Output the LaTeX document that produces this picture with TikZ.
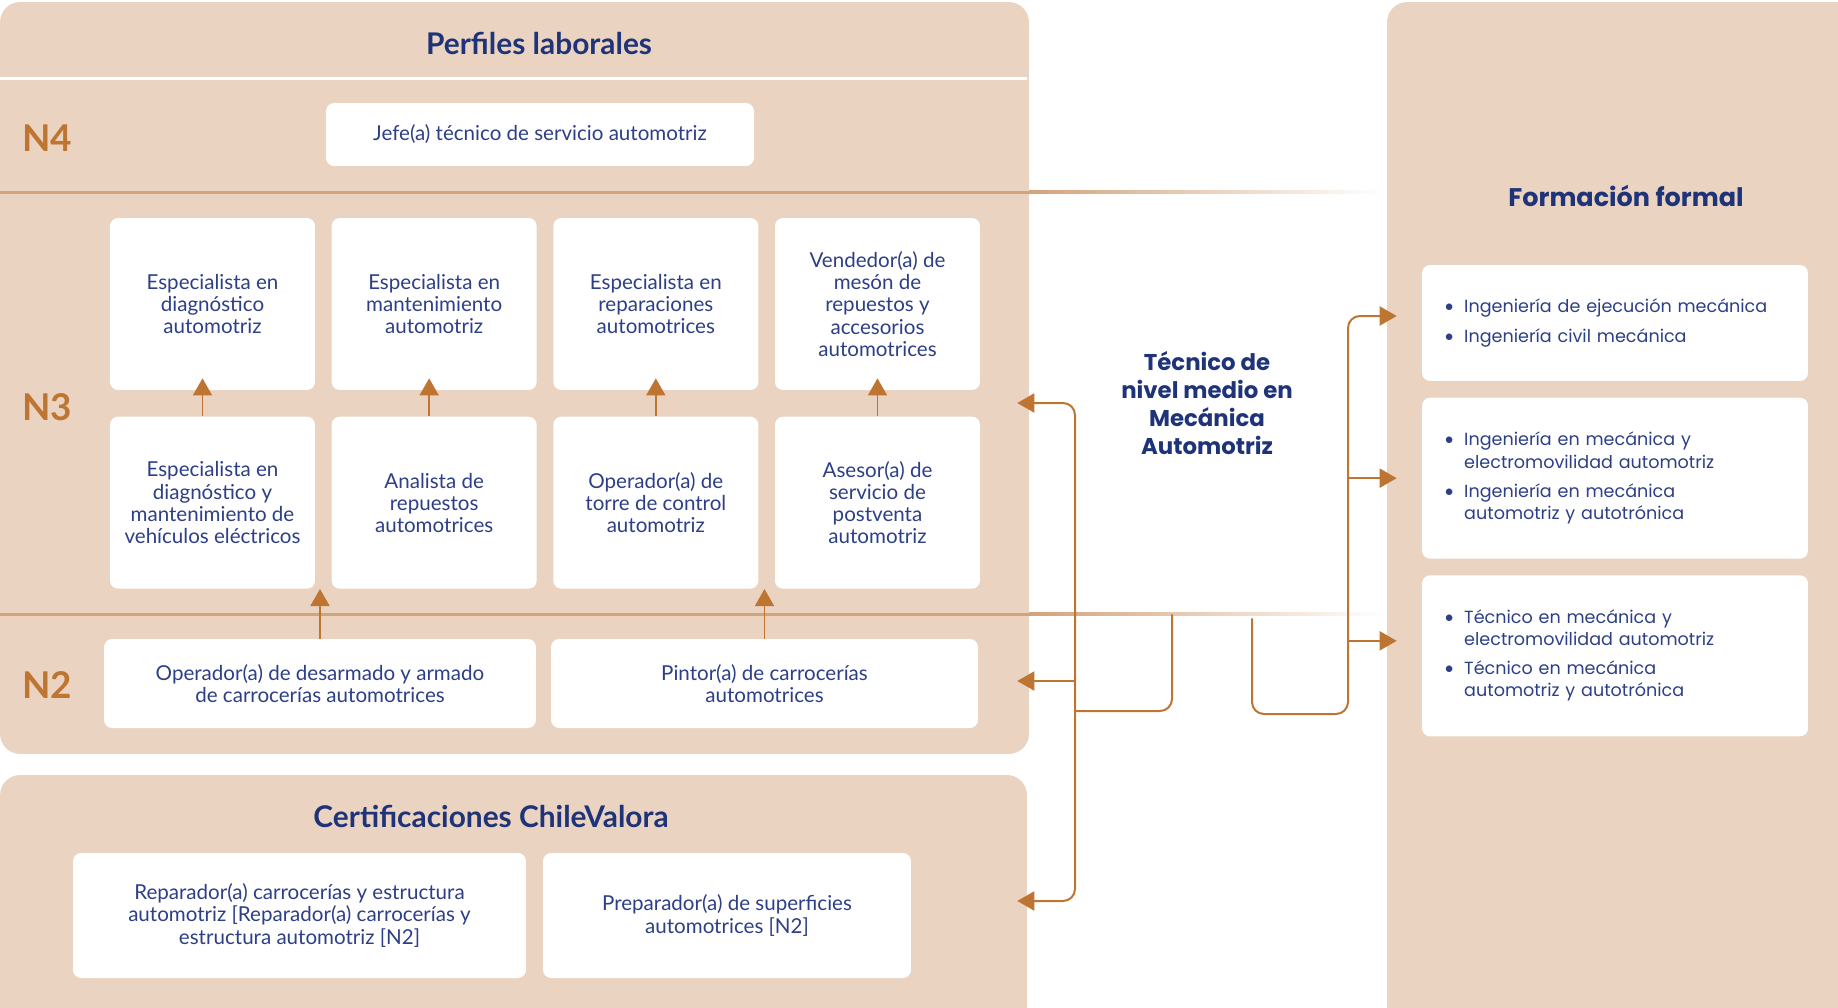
\documentclass[tikz,border=0pt]{standalone}
\usepackage{fontspec}
\setmainfont{Lato}
\newfontfamily\geofont{Poppins}
\usetikzlibrary{arrows.meta,calc,positioning}

\definecolor{panelbg}{HTML}{EAD3C1}
\definecolor{lvlline}{HTML}{D3A37A}
\definecolor{arrowcol}{HTML}{BF7532}
\definecolor{titlecol}{HTML}{1E3378}
\definecolor{boxtext}{HTML}{2D3F87}

\newcommand\fbul{{\rmfamily\textbullet}}

\tikzset{
  panel/.style={fill=panelbg, rounded corners=0.4cm, inner sep=0},
  card/.style={fill=white, rounded corners=0.16cm, text=boxtext, align=center, inner sep=0,
    font=\fontsize{11.7}{12.6}\selectfont},
  rolebox/.style={card, minimum width=4.1cm, minimum height=3.44cm},
  fcard/.style={card, align=left, inner xsep=0.44cm, text width=6.84cm,
    font=\geofont\fontsize{10}{12.6}\selectfont},
  ptitle/.style={text=titlecol, font=\bfseries\fontsize{17}{20}\selectfont},
  gtitle/.style={text=titlecol, align=center, font=\geofont\bfseries\fontsize{14.5}{17}\selectfont},
  lvl/.style={text=arrowcol, font=\bfseries\fontsize{21}{24}\selectfont},
  conn/.style={draw=arrowcol, line width=0.04cm, rounded corners=0.24cm},
  flow/.style={conn, -{Triangle[width=0.38cm,length=0.34cm]}},
  upflow/.style={draw=arrowcol, line width=0.032cm, -{Triangle[width=0.38cm,length=0.34cm]}},
  biflow/.style={conn, {Triangle[width=0.38cm,length=0.34cm]}-{Triangle[width=0.38cm,length=0.34cm]}}
}

\begin{document}
\begin{tikzpicture}[x=0.02cm, y=-0.02cm]
\useasboundingbox (0,0) rectangle (1838,1007);
\clip (0,0) rectangle (1838,1007);

% panels
\node[panel, minimum width=20.58cm, minimum height=15.04cm] (perfiles) at (514.5,378) {};
\node[panel, minimum width=20.54cm, minimum height=5.04cm] (cert) at (513.5,901) {};
\node[panel, minimum width=9.46cm, minimum height=20.56cm] (formal) at (1623.5,516) {};

% level lines
\fill[white] (0,77.5) rectangle (1027,80.5);
\fill[lvlline] (0,190.5) rectangle (1029,193.5);
\shade[left color=lvlline, right color=white] (1029,190.5) rectangle (1385,193.5);
\fill[lvlline] (0,612.5) rectangle (1029,615.5);
\shade[left color=lvlline, right color=white] (1029,612.5) rectangle (1385,615.5);

% titles
\node[ptitle] (ptit) at (539,43) {Perfiles laborales};
\node[ptitle] (ctit) at (491,816) {Certificaciones ChileValora};
\node[gtitle] (ftit) at (1626,196) {Formación formal};

\node[lvl] (n4lab) at (47,138) {N4};
\node[lvl] (n3lab) at (47,407) {N3};
\node[lvl] (n2lab) at (47,685) {N2};

% N4
\node[card, minimum width=8.56cm, minimum height=1.26cm] (jefe) at (540,134.5) {Jefe(a) técnico de servicio automotriz};

% N3
\node[rolebox] (u1) at (212.5,304) {Especialista en\\diagnóstico\\automotriz};
\node[rolebox, right=0.32cm of u1] (u2) {Especialista en\\mantenimiento\\automotriz};
\node[rolebox, right=0.32cm of u2] (u3) {Especialista en\\reparaciones\\automotrices};
\node[rolebox, right=0.32cm of u3] (u4) {Vendedor(a) de\\mesón de\\repuestos y\\accesorios\\automotrices};
\node[rolebox, below=0.52cm of u1] (l1) {Especialista en\\diagnóstico y\\mantenimiento de\\vehículos eléctricos};
\node[rolebox, below=0.52cm of u2] (l2) {Analista de\\repuestos\\automotrices};
\node[rolebox, below=0.52cm of u3] (l3) {Operador(a) de\\torre de control\\automotriz};
\node[rolebox, below=0.52cm of u4] (l4) {Asesor(a) de\\servicio de\\postventa\\automotriz};

% N2
\node[card, minimum width=8.64cm, minimum height=1.78cm] (n2a) at (320,683.5) {Operador(a) de desarmado y armado\\de carrocerías automotrices};
\node[card, minimum width=8.54cm, minimum height=1.78cm] (n2b) at (764.5,683.5) {Pintor(a) de carrocerías\\automotrices};

% ChileValora
\node[card, minimum width=9.06cm, minimum height=2.5cm] (c1) at (299.5,915.5) {Reparador(a) carrocerías y estructura\\automotriz [Reparador(a) carrocerías y\\estructura automotriz [N2]};
\node[card, minimum width=7.36cm, minimum height=2.5cm] (c2) at (727,915.5) {Preparador(a) de superficies\\automotrices [N2]};

% formacion formal
\node[fcard, minimum height=2.32cm] (f1) at (1615,323) {%
  \begin{tabular}{@{}l@{\hspace{0.2cm}}l@{}}
  \fbul & Ingeniería de ejecución mecánica\\[4pt]
  \fbul & Ingeniería civil mecánica
  \end{tabular}};
\node[fcard, minimum height=3.22cm, below=0.32cm of f1] (f2) {%
  \begin{tabular}{@{}l@{\hspace{0.2cm}}l@{}}
  \fbul & Ingeniería en mecánica y\\
   & electromovilidad automotriz\\[4pt]
  \fbul & Ingeniería en mecánica\\
   & automotriz y autotrónica
  \end{tabular}};
\node[fcard, minimum height=3.22cm, below=0.32cm of f2] (f3) {%
  \begin{tabular}{@{}l@{\hspace{0.2cm}}l@{}}
  \fbul & Técnico en mecánica y\\
   & electromovilidad automotriz\\[4pt]
  \fbul & Técnico en mecánica\\
   & automotriz y autotrónica
  \end{tabular}};

% centre
\node[gtitle, minimum width=6cm, minimum height=8.44cm, font=\geofont\bfseries\fontsize{13}{16}\selectfont] (tec) at (1207,403)
  {Técnico de\\nivel medio en\\Mecánica\\Automotriz};

% arrows inside perfiles
\foreach \i/\dx in {1/-10,2/-5,3/0,4/0}
  \draw[upflow] ($(l\i.north)+(\dx,0)$) -- ($(u\i.south)+(\dx,-12)$);
\draw[upflow] (n2a.north) -- (n2a.north |- l1.south);
\draw[upflow] (n2b.north) -- (n2b.north |- l3.south);

% left connector
\coordinate (lbus) at (1075,711);
\draw[conn] ($(tec.south)+(-35,0)$) |- (lbus);
\draw[flow] ($(lbus |- n2lab)+(0,-4)$) -- ($(perfiles.east |- n2lab)+(-12,-4)$);
\draw[biflow] ($(perfiles.east |- n3lab)+(-12,-4)$) -| (lbus) |- ($(cert.east)+(-10,0)$);

% right connector
\coordinate (rbus) at (1348,714);
\draw[flow] ($(tec.south)+(45,4)$) |- (rbus) |- ($(formal.west |- f1)+(10,-7)$);
\draw[flow] (rbus |- f2) -- ($(formal.west |- f2)+(10,0)$);
\draw[flow] ($(rbus |- f3)+(0,-15)$) -- ($(formal.west |- f3)+(10,-15)$);

\end{tikzpicture}
\end{document}
